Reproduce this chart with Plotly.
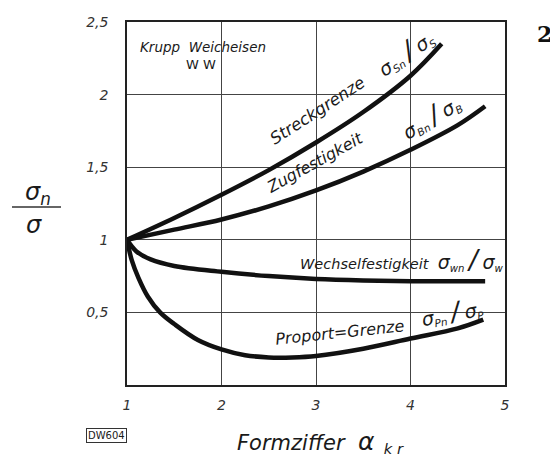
import plotly.graph_objects as go

# Formziffer alpha_kr
x_streck = [1, 1.5, 2, 2.5, 3, 3.5, 4, 4.33]
y_streck = [1, 1.15, 1.31, 1.48, 1.67, 1.88, 2.13, 2.35]

x_zug = [1, 1.5, 2, 2.5, 3, 3.5, 4, 4.5, 4.79]
y_zug = [1, 1.07, 1.14, 1.23, 1.34, 1.47, 1.62, 1.79, 1.92]

x_wechsel = [1, 1.1, 1.25, 1.5, 2, 2.5, 3, 3.5, 4, 4.79]
y_wechsel = [1, 0.92, 0.865, 0.82, 0.78, 0.75, 0.73, 0.72, 0.715, 0.715]

x_proport = [1, 1.05, 1.12, 1.22, 1.35, 1.5, 1.75, 2, 2.25, 2.5, 2.75, 3, 3.5, 4, 4.5, 4.77]
y_proport = [1, 0.86, 0.74, 0.61, 0.5, 0.42, 0.31, 0.245, 0.205, 0.19, 0.19, 0.2, 0.25, 0.32, 0.39, 0.45]

x_ticks = [1, 2, 3, 4, 5]
y_ticks = [0.5, 1, 1.5, 2, 2.5]
y_ticktext = ["0,5", "1", "1,5", "2", "2,5"]

FONT = "DejaVu Sans"
INK = "#1a1a1a"

# page body has an 8px margin, so the figure is 8px smaller and margins shifted
L, T, W, H = 119, 6, 378, 371

fig = go.Figure()
for xs, ys in [(x_streck, y_streck), (x_zug, y_zug), (x_wechsel, y_wechsel), (x_proport, y_proport)]:
    fig.add_trace(go.Scatter(x=xs, y=ys, mode="lines", line=dict(color="#111", width=4.5, shape="spline"),
                             showlegend=False, hoverinfo="skip"))

fig.update_xaxes(range=[1, 5], tickvals=x_ticks, showgrid=True, gridcolor="#444", gridwidth=1,
                 showline=True, mirror=True, linecolor="#222", linewidth=1.5, zeroline=False,
                 ticks="outside", ticklen=6, tickcolor="rgba(0,0,0,0)", ticklabeloverflow="allow",
                 tickfont=dict(family=FONT, size=14, color="#333", style="italic"))
fig.update_yaxes(range=[0, 2.5], tickvals=y_ticks, ticktext=y_ticktext, showgrid=True, gridcolor="#444",
                 gridwidth=1, showline=True, mirror=True, linecolor="#222", linewidth=1.5, zeroline=False,
                 ticks="outside", ticklen=14, tickcolor="rgba(0,0,0,0)", ticklabeloverflow="allow",
                 tickfont=dict(family=FONT, size=14, color="#333", style="italic"))


def lbl(text, x, y, size=14, angle=0, ref="data", italic=False, **kw):
    if ref != "data":
        # x, y given as page pixels of the reference
        x, y = (x - 127) / W, (385 - y) / H
    fig.add_annotation(text=text, x=x, y=y, xref="x" if ref == "data" else "paper",
                       yref="y" if ref == "data" else "paper", showarrow=False, textangle=angle,
                       xanchor="center", yanchor="middle",
                       font=dict(family=FONT, size=size, color=INK, style="italic" if italic else "normal"), **kw)


def sig(sub=""):
    s = "<span style='font-size:19px'>σ</span>"
    return s + ("<sub>" + sub + "</sub>" if sub else "")


slash = " <span style='font-size:26px'>/</span> "
lbl("Krupp  Weicheisen", 1.80, 2.33, size=13.5, italic=True)
lbl("W W", 1.78, 2.21, size=13)

lbl("Streckgrenze", 3.02, 1.89, size=16.5, angle=-33, italic=True)
lbl(sig("Sn") + slash + sig("S"), 3.95, 2.29, size=15, angle=-34, italic=True)

lbl("Zugfestigkeit", 2.99, 1.53, size=16, angle=-29, italic=True)
lbl(sig("Bn") + slash + sig("B"), 4.22, 1.85, size=15, angle=-30, italic=True)

lbl("Wechselfestigkeit  " + sig("wn") + slash + sig("w"), 3.9, 0.86, size=14.5, italic=True)

lbl("Proport=Grenze", 3.25, 0.365, size=16, angle=-6, italic=True)
lbl(sig("Pn") + slash + sig("P"), 4.44, 0.5, size=15, angle=-10, italic=True)

# y-axis title as a fraction
lbl("σ<sub>n</sub>", 38, 189, size=24, ref="paper", italic=True)
lbl("σ", 34, 221, size=24, ref="paper", italic=True)
fig.add_shape(type="line", xref="paper", yref="paper", x0=(12 - 127) / W, x1=(61 - 127) / W,
              y0=(385 - 203) / H, y1=(385 - 203) / H, line=dict(color="#333", width=1.5))

lbl("Formziffer  <span style='font-size:25px'>α</span><sub>  k r</sub>", 320, 443, size=21, ref="paper", italic=True)
lbl("DW604", 106, 437, size=10, ref="paper", bordercolor="#333", borderwidth=1, borderpad=1)
fig.add_annotation(text="<b>2</b>", x=(544 - 127) / W, y=(385 - 26) / H, xref="paper", yref="paper",
                   xanchor="center", yanchor="middle", showarrow=False,
                   font=dict(family="DejaVu Serif", size=22, color="#111"))

fig.update_layout(width=L + W + 53, height=T + H + 74, margin=dict(l=L, r=53, t=T, b=74),
                  plot_bgcolor="white", paper_bgcolor="white", font=dict(family=FONT, color=INK))
fig.write_html("out.html")
